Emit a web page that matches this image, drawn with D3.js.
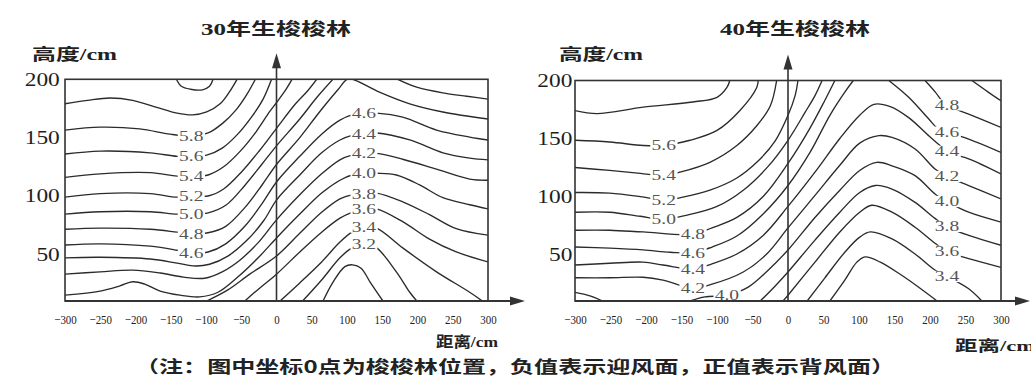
<!DOCTYPE html>
<html>
<head>
<meta charset="utf-8">
<script src="https://cdn.jsdelivr.net/npm/d3@7"></script>
<style>
  body { margin: 0; background: #fff; }
  svg { display: block; }
</style>
</head>
<body>
<svg id="chart" width="1031" height="386"></svg>
<script>
// ---- axis ticks (cm) ----
const distanceTicks = [-300, -250, -200, -150, -100, -50, 0, 50, 100, 150, 200, 250, 300];
const heightTicks = [50, 100, 150, 200];
const heightDomain = [10, 200];

// ---- wind-speed isolines (m/s): [value, [[distance cm, height cm], ...]] ----
const isolines30 = [
  [6.2, [[-142,200],[-135,194],[-122,191.5],[-105,191],[-95,194],[-90,200]]],
  [6.0, [[-300,179],[-268,182],[-236,184],[-204,182],[-170,176],[-141,171],[-119,169.5],[-99,172],[-80,179],[-67,189],[-56,200]]],
  [5.8, [[-300,156.5],[-250,159],[-194,157.5],[-151,153],[-120,151.5],[-97,154],[-77,162],[-57,174],[-42,187],[-30,200]]],
  [5.6, [[-300,136],[-250,138.5],[-179,137],[-141,134],[-120,134],[-99,135],[-77,141],[-55,153],[-35,168],[-19,183],[-7,200]]],
  [5.4, [[-300,116],[-250,119],[-179,120],[-141,117],[-120,117],[-97,118],[-75,125],[-52,138],[-29,155],[-10,172],[0,180],[12,190],[22,200]]],
  [5.2, [[-300,99],[-250,102],[-179,102],[-141,99],[-120,100],[-97,100],[-75,106],[-49,121],[-24,139],[0,158],[27,179],[44,190],[57,200]]],
  [5.0, [[-300,84.5],[-250,86.5],[-179,86.5],[-141,84.5],[-120,84.5],[-97,85.5],[-72,92],[-45,109],[-21,127],[0,143],[33,166],[58,185],[80,200]]],
  [5.0, [[172,200],[200,193],[240,188],[270,185.5],[300,183]]],
  [4.8, [[-300,71.5],[-250,72.5],[-179,71.5],[-141,69],[-120,67.5],[-97,68.5],[-72,74],[-45,90],[-21,109],[0,127],[33,150],[61,172],[87,191],[100,200],[108,200],[146,189],[189,179],[236,172],[300,166]]],
  [4.6, [[-300,58],[-250,59],[-179,57],[-141,53.5],[-120,51],[-97,52],[-72,59],[-45,74],[-21,93],[0,112],[33,134],[64,153],[90,165],[107,169.5],[125,171],[142,171],[179,167.5],[227,156.5],[274,150.5],[300,148]]],
  [4.4, [[-300,47],[-250,47.5],[-179,46],[-141,42.5],[-115,40],[-95,41.5],[-69,48.5],[-42,62],[-18,79],[0,96.5],[33,118],[64,137],[90,148],[107,152],[125,153.5],[142,154],[189,148],[236,137],[274,132.5],[300,131]]],
  [4.2, [[-300,33],[-250,35],[-204,36.5],[-165,34],[-132,30.5],[-102,29.5],[-77,35],[-52,45],[-26,60],[0,79.5],[33,101],[64,119],[90,131],[107,135],[125,136.5],[142,136.5],[179,131.5],[227,123],[274,114.5],[300,113.5]]],
  [4.0, [[-300,15],[-250,18.5],[-222,23],[-204,26.5],[-187,24.5],[-165,18.5],[-137,15],[-109,13.5],[-83,17.5],[-55,30.5],[-26,47],[0,64],[33,84.5],[64,102.5],[90,113.5],[107,118],[125,119.5],[142,119.5],[170,118],[203,109.5],[236,98.5],[274,92.5],[300,89]]],
  [3.8, [[-99,10],[-69,19.5],[-38,33],[0,48.5],[33,68],[64,86],[90,97.5],[107,101],[125,102],[142,102.5],[179,95],[217,84],[255,72],[300,66.5]]],
  [3.6, [[-45,10],[-24,21],[0,33],[33,52],[64,69],[90,81],[107,86],[125,89],[142,89],[179,78],[217,63],[255,52],[300,43.5]]],
  [3.4, [[5,10],[33,25.5],[64,43.5],[90,60.5],[107,69],[125,73.5],[142,72.5],[179,55.5],[227,35],[274,17.5],[292,10]]],
  [3.2, [[37,10],[64,28],[90,47],[107,55.5],[125,59],[142,55.5],[170,35],[189,17.5],[199,10]]],
  [3.0, [[66,10],[80,26],[97,39.5],[108,41],[120,38],[133,26],[151,10]]]
];

const isolines40 = [
  [5.8, [[-300,174],[-269,171.5],[-204,177],[-134,181.5],[-100,185.5],[-86,194],[-82,200]]],
  [5.6, [[-300,148.5],[-251,147],[-204,144],[-176,144],[-138,148.5],[-100,157],[-68,174],[-44,194],[-42,200]]],
  [5.4, [[-300,125],[-251,122.5],[-208,120],[-176,118],[-152,121],[-110,129.5],[-72,144],[-44,161],[-25,178],[-16,200]]],
  [5.2, [[-300,103.5],[-251,103],[-208,100],[-176,97],[-148,99.5],[-110,105.5],[-72,116],[-44,129.5],[-18,148],[0,170],[10,187],[14,200]]],
  [5.0, [[-300,86.5],[-251,86.5],[-208,83],[-176,80.5],[-142,84],[-100,91.5],[-63,105.5],[-28,126],[0,148.5],[24,172.5],[38,187],[48,200]]],
  [5.0, [[259,200],[282,190],[300,182.5]]],
  [4.8, [[-300,71],[-251,71],[-204,69.5],[-134,67.5],[-107,73],[-72,82],[-35,100],[0,128.5],[31,159],[52,183],[66,200]]],
  [4.8, [[193,200],[207.5,190],[217,182.5],[226,178],[254.5,171],[300,159.5]]],
  [4.6, [[-300,56.5],[-251,55.5],[-204,54],[-166,52],[-134,51.5],[-107,56.5],[-72,66],[-35,85],[0,109.5],[31,138],[59,170],[80,190],[92,200]]],
  [4.6, [[142,200],[170,185.5],[198,167],[212,158],[226,155],[254.5,149.5],[300,138]]],
  [4.4, [[-300,41],[-251,42.5],[-204,43.5],[-176,41],[-134,37.5],[-107,42],[-72,50.5],[-35,66.5],[0,91.5],[38,121],[73,150],[101,170],[121,179.5],[144,177.5],[170,168],[198,152.5],[212,145],[226,138],[254.5,132.5],[300,119.5]]],
  [4.2, [[-300,30],[-251,30],[-204,30.5],[-176,28],[-134,21],[-107,24.5],[-63,35],[-30,50.5],[0,73],[38,101],[73,127],[101,146],[128,152.5],[146.5,151],[179,141],[207.5,123.5],[226,116.5],[254.5,109.5],[300,98]]],
  [4.0, [[-138,10],[-117,13.5],[-86,15],[-56,22],[-28,36.5],[0,54],[38,82],[73,105.5],[101,122.5],[125,129.5],[146.5,126.5],[179,118],[207.5,102],[226,95],[254.5,86.5],[300,78]]],
  [4.0, [[-300,17.5],[-279,14.5],[-261,10]]],
  [3.8, [[-39,10],[-18,23],[0,35],[38,62.5],[73,86.5],[101,103.5],[123,109.5],[146.5,106.5],[179,95],[207.5,81],[226,73.5],[254.5,66.5],[300,58]]],
  [3.6, [[-7,10],[0,15],[38,43.5],[73,69.5],[101,86.5],[118,92.5],[146.5,86.5],[179,73.5],[207.5,59.5],[226,52],[254.5,46.5],[300,39]]],
  [3.4, [[27,10],[52,30],[80,52],[101,65],[116,69.5],[146.5,63.5],[179,50.5],[207.5,36.5],[226,30.5],[254.5,20.5],[273,10]]],
  [3.2, [[59,10],[80,28],[97,43.5],[108.5,48],[130,43.5],[158,33],[186,21],[210,10]]]
];

// ---- isoline labels: [value, distance where the label sits] ----
const labels30 = [
  [5.8,-121],[5.6,-121],[5.4,-121],[5.2,-121],[5.0,-121],[4.8,-121],[4.6,-121],
  [4.6,124],[4.4,124],[4.2,124],[4.0,124],[3.8,124],[3.6,124],[3.4,124],[3.2,124]
];
const labels40 = [
  [5.6,-175],[5.4,-175],[5.2,-175],[5.0,-175],
  [4.8,-134],[4.6,-134],[4.4,-134],[4.2,-134],[4.0,-86],
  [4.8,224],[4.6,224],[4.4,224],[4.2,224],[4.0,224],[3.8,224],[3.6,224],[3.4,224]
];

const panels = [
  { title: "30年生梭梭林", lines: isolines30, labels: labels30,
    box: { x0: 65, x1: 488, y0: 79.3, y1: 301 },
    titleX: 276, titleW: 150, yLabelX: 32, yLabelW: 85, yPad: 4,
    xLabelX: 436, xLabelY: 347, xLabelW: 62, arrowEnd: 525 },
  { title: "40年生梭梭林", lines: isolines40, labels: labels40,
    box: { x0: 575, x1: 1001, y0: 80.5, y1: 301 },
    titleX: 795, titleW: 150, yLabelX: 559, yLabelW: 84, yPad: 2,
    xLabelX: 955, xLabelY: 351, xLabelW: 80, arrowEnd: 1030 }
];

const SX = 1.3;                 // horizontal stretch applied to lettering
const LABEL_SIZE = 15;
const INK = "#2b2b2b";
const svg = d3.select("#chart");
const defs = svg.append("defs");

function valueAt(points, x) {
  for (let i = 0; i < points.length - 1; i++) {
    const [xa, ya] = points[i], [xb, yb] = points[i + 1];
    if (x >= xa && x <= xb) return ya + (yb - ya) * (x - xa) / (xb - xa);
  }
  return null;
}

function cjkText(g, x, y, width, size) {
  return g.append("text")
    .attr("x", x).attr("y", y)
    .attr("font-family", "'Noto Sans CJK SC', sans-serif")
    .attr("font-weight", 700)
    .attr("font-size", size)
    .attr("fill", "#222")
    .attr("textLength", width)
    .attr("lengthAdjust", "spacingAndGlyphs");
}

panels.forEach((p, idx) => {
  const { x0, x1, y0, y1 } = p.box;
  const x = d3.scaleLinear().domain([-300, 300]).range([x0, x1]);
  const y = d3.scaleLinear().domain(heightDomain).range([y1, y0]);
  const g = svg.append("g");

  const clipId = "clip" + idx;
  defs.append("clipPath").attr("id", clipId)
    .append("rect").attr("x", x0).attr("y", y0).attr("width", x1 - x0).attr("height", y1 - y0);

  // isolines
  const line = d3.line()
    .x(d => x(d[0])).y(d => y(d[1]))
    .curve(d3.curveCatmullRom.alpha(0.5));
  g.append("g").attr("clip-path", `url(#${clipId})`)
    .selectAll("path").data(p.lines).join("path")
    .attr("d", d => line(d[1]))
    .attr("fill", "none")
    .attr("stroke", INK)
    .attr("stroke-width", 1.35);

  // isoline value labels on a white patch that breaks the line
  const labelG = g.append("g");
  p.labels.forEach(([v, dx]) => {
    const piece = p.lines.find(l => l[0] === v && dx >= l[1][0][0] && dx <= l[1][l[1].length - 1][0]);
    if (!piece) return;
    const hy = valueAt(piece[1], dx);
    const lg = labelG.append("g")
      .attr("transform", `translate(${x(dx)},${y(hy)}) scale(${SX},1)`);
    const patch = lg.append("rect").attr("fill", "#fff");
    const t = lg.append("text")
      .attr("text-anchor", "middle")
      .attr("y", LABEL_SIZE * 0.33)
      .attr("font-family", "'Liberation Serif', serif")
      .attr("font-size", LABEL_SIZE)
      .attr("fill", "#555")
      .text(v.toFixed(1));
    const bb = t.node().getBBox();
    const h = LABEL_SIZE * 0.62;
    patch.attr("x", bb.x - 1).attr("width", bb.width + 2)
      .attr("y", -h / 2 - 1).attr("height", h + 2);
  });

  // frame
  g.append("rect")
    .attr("x", x0).attr("y", y0).attr("width", x1 - x0).attr("height", y1 - y0)
    .attr("fill", "none").attr("stroke", "#333").attr("stroke-width", 1.6);

  // distance axis with arrow
  const xAxis = g.append("g").attr("transform", `translate(0,${y1})`)
    .call(d3.axisBottom(x).tickValues(distanceTicks).tickSize(0).tickPadding(14));
  xAxis.select(".domain").remove();
  xAxis.selectAll("text")
    .attr("font-family", "'Liberation Serif', serif")
    .attr("font-size", 13)
    .attr("fill", "#222")
    .attr("transform", "scale(0.84,1)");
  g.append("line")
    .attr("x1", x0).attr("x2", p.arrowEnd - 10).attr("y1", y1).attr("y2", y1)
    .attr("stroke", "#333").attr("stroke-width", 1.8);
  g.append("path")
    .attr("d", `M${p.arrowEnd},${y1} L${p.arrowEnd - 15},${y1 - 4.5} L${p.arrowEnd - 15},${y1 + 4.5} Z`)
    .attr("fill", "#333");

  // height axis at the stand position (distance 0) with arrow
  const cx = x(0);
  const tipY = y0 - 26;
  g.append("line")
    .attr("x1", cx).attr("x2", cx).attr("y1", y1).attr("y2", tipY + 10)
    .attr("stroke", "#333").attr("stroke-width", 1.6);
  g.append("path")
    .attr("d", `M${cx},${tipY} L${cx - 4.5},${tipY + 15} L${cx + 4.5},${tipY + 15} Z`)
    .attr("fill", "#333");

  // height tick labels on the frame's left side
  const yAxis = g.append("g").attr("transform", `translate(${x0},0)`)
    .call(d3.axisLeft(y).tickValues(heightTicks).tickSize(0).tickPadding(p.yPad));
  yAxis.select(".domain").remove();
  yAxis.selectAll("text")
    .attr("font-family", "'Liberation Serif', serif")
    .attr("font-size", 18)
    .attr("fill", "#1e1e1e")
    .attr("transform", `scale(${SX},1)`);

  // titles and axis names
  const title = cjkText(g, p.titleX - p.titleW / 2, 35, p.titleW, 17);
  title.append("tspan").attr("font-family", "'Liberation Serif', serif").text(p.title.slice(0, 2));
  title.append("tspan").text(p.title.slice(2));

  const yName = cjkText(g, p.yLabelX, 60, p.yLabelW, 16);
  yName.append("tspan").text("高度");
  yName.append("tspan").attr("font-family", "'Liberation Serif', serif").text("/cm");

  const xName = cjkText(g, p.xLabelX, p.xLabelY, p.xLabelW, 15);
  xName.append("tspan").text("距离");
  xName.append("tspan").attr("font-family", "'Liberation Serif', serif").text("/cm");
});

// footnote
cjkText(svg, 135, 373, 760, 17)
  .text("（注：图中坐标0点为梭梭林位置，负值表示迎风面，正值表示背风面）");
</script>
</body>
</html>
